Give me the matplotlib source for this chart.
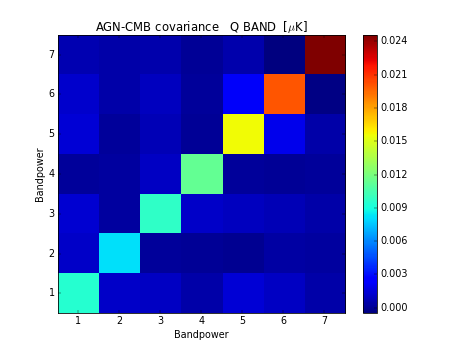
import numpy as np
import matplotlib
matplotlib.use('Agg')
import matplotlib.pyplot as plt

# bandpower indices
bands = [1, 2, 3, 4, 5, 6, 7]

# covariance rows, bandpower 1 (bottom) .. 7 (top); columns bandpower 1..7
row_1 = [0.0095, 0.0011, 0.0010, 0.0004, 0.0014, 0.0010, 0.0004]
row_2 = [0.0011, 0.0082, 0.0001, 0.0000, -0.0001, 0.0003, 0.0002]
row_3 = [0.0013, 0.0002, 0.0097, 0.0011, 0.0009, 0.0007, 0.0004]
row_4 = [0.0001, 0.0002, 0.0010, 0.0113, 0.0001, 0.0000, 0.0001]
row_5 = [0.0014, 0.0001, 0.0007, 0.0000, 0.0156, 0.0019, 0.0004]
row_6 = [0.0012, 0.0004, 0.0009, 0.0001, 0.0022, 0.0200, -0.0004]
row_7 = [0.0006, 0.0004, 0.0005, 0.0000, 0.0005, -0.0005, 0.0246]

cbar_ticks = [0.000, 0.003, 0.006, 0.009, 0.012, 0.015, 0.018, 0.021, 0.024]

plt.style.use('classic')
plt.rcParams['figure.facecolor'] = 'white'
plt.rcParams['savefig.facecolor'] = 'white'


def main():
    cov = np.array([row_1, row_2, row_3, row_4, row_5, row_6, row_7])

    fig = plt.figure(figsize=(463 / 58.0, 348 / 58.0), dpi=58)
    ax = fig.add_subplot(111)
    im = ax.imshow(cov, cmap='jet', interpolation='nearest', origin='lower',
                   aspect='auto',
                   extent=[bands[0] - 0.5, bands[-1] + 0.5,
                           bands[0] - 0.5, bands[-1] + 0.5])
    ax.set_xticks(bands)
    ax.set_yticks(bands)
    ax.set_xlabel('Bandpower')
    ax.set_ylabel('Bandpower')
    ax.set_title(r'AGN-CMB covariance   Q BAND  [$\mu$K]')

    cb = fig.colorbar(im, ax=ax, ticks=cbar_ticks, format='%.3f')

    fig.savefig('out.png', dpi=58)


if __name__ == '__main__':
    main()
